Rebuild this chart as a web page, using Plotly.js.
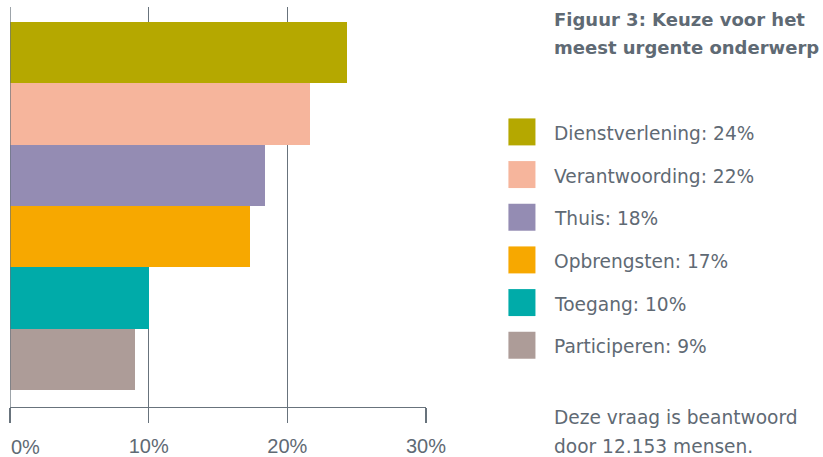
<!DOCTYPE html>
<html>
<head>
<meta charset="utf-8">
<script src="https://cdn.plot.ly/plotly-3.0.1.min.js"></script>
<style>html,body{margin:0;padding:0;background:#fff;}#chart{width:823px;height:457px;}</style>
</head>
<body>
<div id="chart"></div>
<script>
const categories = ["Dienstverlening", "Verantwoording", "Thuis", "Opbrengsten", "Toegang", "Participeren"];
const values = [24.3, 21.6, 18.4, 17.3, 10.0, 9.0];
const labelPercents = [24, 22, 18, 17, 10, 9];
const colors = ["#b5a800", "#f6b59c", "#948cb3", "#f7a800", "#00aba9", "#ad9c98"];
const tickValues = [0, 10, 20, 30];
const tickLabels = ["0%", "10%", "20%", "30%"];
const titleLines = ["Figuur 3: Keuze voor het", "meest urgente onderwerp"];
const noteLines = ["Deze vraag is beantwoord", "door 12.153 mensen."];

const W = 823, H = 457;
const L = 10.3, R = 425.7, T = 7, B = 407.3;
const px = x => (x - L) / (R - L);
const py = y => (B - y) / (B - T);
const gray = "#5f6a74";
const font = "Liberation Sans, Arial, sans-serif";
const textFont = "DejaVu Sans, sans-serif";

const trace = {
  type: "bar",
  orientation: "h",
  y: categories,
  x: values,
  marker: {color: colors, line: {width: 0}},
  hoverinfo: "skip",
  showlegend: false
};

const shapes = [{
  type: "line", xref: "x", yref: "paper", x0: 0, x1: 0, y0: 0, y1: 1,
  line: {color: "#68737c", width: 1.3}, layer: "above"
}];
const annotations = [];
const rowY0 = 132, rowStep = 42.7;
categories.forEach((c, i) => {
  const cy = rowY0 + i * rowStep;
  shapes.push({
    type: "rect", xref: "paper", yref: "paper",
    x0: px(508), x1: px(535), y0: py(cy + 13.5), y1: py(cy - 13.5),
    fillcolor: colors[i], line: {width: 0}
  });
  annotations.push({
    xref: "paper", yref: "paper", x: px(552), y: py(cy + 1.5),
    xanchor: "left", yanchor: "middle", showarrow: false,
    text: c + ": " + labelPercents[i] + "%",
    font: {family: textFont, size: 18.6, color: gray}
  });
});
titleLines.forEach((t, i) => {
  annotations.push({
    xref: "paper", yref: "paper", x: px(552), y: py(19.5 + i * 28.5),
    xanchor: "left", yanchor: "middle", showarrow: false,
    text: "<b>" + t + "</b>",
    font: {family: textFont, size: 18, color: gray}
  });
});
noteLines.forEach((t, i) => {
  annotations.push({
    xref: "paper", yref: "paper", x: px(552), y: py(417.5 + i * 29),
    xanchor: "left", yanchor: "middle", showarrow: false,
    text: t,
    font: {family: textFont, size: 18.6, color: gray}
  });
});
// first tick label sits to the right of its tick
annotations.push({
  xref: "x", yref: "paper", x: tickValues[0], y: py(447.5),
  xanchor: "left", yanchor: "middle", xshift: -1, showarrow: false,
  text: tickLabels[0],
  font: {family: font, size: 20, color: gray}
});

const layout = {
  width: W, height: H,
  margin: {l: L, r: W - R, t: T, b: H - B, pad: 0},
  paper_bgcolor: "#ffffff", plot_bgcolor: "#ffffff",
  bargap: 0,
  xaxis: {
    range: [0, 30], tickvals: tickValues,
    ticktext: tickLabels.map((t, i) => i === 0 ? "" : t),
    showgrid: true, gridcolor: "#68737c", gridwidth: 1.3,
    zeroline: false,
    showline: true, linecolor: "#68737c", linewidth: 1.3,
    ticks: "outside", ticklen: 15, tickcolor: "#68737c", tickwidth: 1.3,
    ticklabelstandoff: 6,
    tickfont: {family: font, size: 20, color: gray},
    fixedrange: true
  },
  yaxis: {
    type: "category", categoryorder: "array", categoryarray: categories,
    range: [5.78, -0.745], showticklabels: false, ticks: "",
    showgrid: false, zeroline: false, showline: false, fixedrange: true
  },
  shapes: shapes,
  annotations: annotations,
  showlegend: false
};

Plotly.newPlot("chart", [trace], layout, {displayModeBar: false, staticPlot: true});
</script>
</body>
</html>
